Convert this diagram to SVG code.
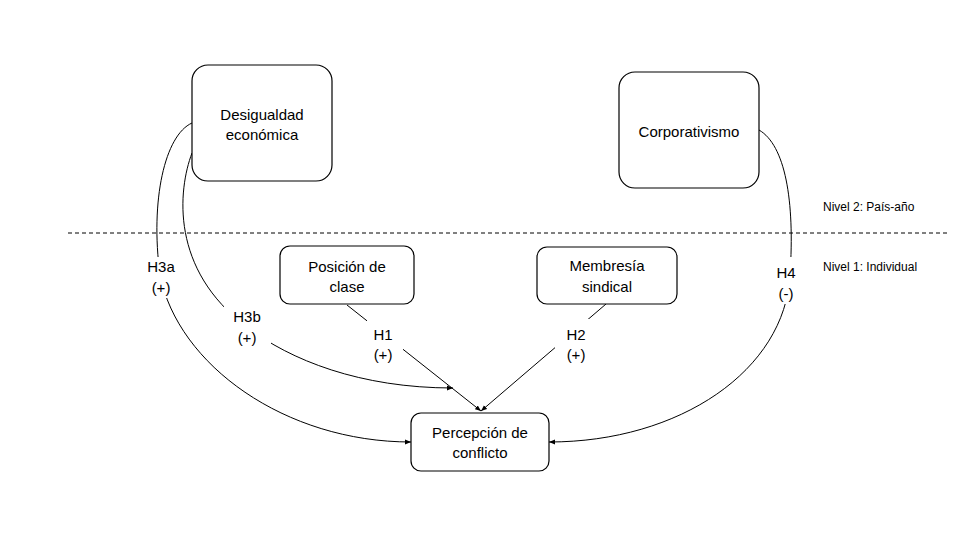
<svg xmlns="http://www.w3.org/2000/svg" width="960" height="540" viewBox="0 0 960 540">
<defs>
<style>
.box{fill:#fff;stroke:#000;stroke-width:1.2}
.t{font-family:"Liberation Sans",Arial,sans-serif;font-size:15px;fill:#000;text-anchor:middle}
.s{font-family:"Liberation Sans",Arial,sans-serif;font-size:12px;fill:#000}
.c{fill:none;stroke:#000;stroke-width:1}
.bg{fill:#fff;stroke:none}
</style>
<marker id="ah" viewBox="0 0 10 10" refX="10" refY="5" markerWidth="6" markerHeight="6" markerUnits="userSpaceOnUse" orient="auto">
<path d="M0,1 L10,5 L0,9 z" fill="#000"/>
</marker>
</defs>
<rect width="960" height="540" fill="#fff"/>
<line x1="68" y1="233" x2="948" y2="233" stroke="#000" stroke-width="1" stroke-dasharray="4,3"/>
<text class="s" x="823" y="211">Nivel 2: País-año</text>
<text class="s" x="823" y="271">Nivel 1: Individual</text>
<g id="connectors">
<path class="c" d="M192,123 C165,135 150,200 160,275 C178,365 285,442 411,442" marker-end="url(#ah)"/>
<path class="c" d="M192,153 C178,190 170,270 247,327 C290,360 360,388 453,388" marker-end="url(#ah)"/>
<path class="c" d="M347,305 L481,411" marker-end="url(#ah)"/>
<path class="c" d="M606,304 L481,411" marker-end="url(#ah)"/>
<path class="c" d="M759,130 C785,145 795,200 790,275 C785,370 680,442 549,442" marker-end="url(#ah)"/>
</g>
<g id="label-h3a"><rect class="bg" x="145" y="257" width="33" height="41"/><text class="t" x="161" y="272">H3a</text><text class="t" x="161" y="293">(+)</text></g>
<g id="label-h3b"><rect class="bg" x="224" y="305" width="47" height="41"/><text class="t" x="247" y="322">H3b</text><text class="t" x="247" y="343">(+)</text></g>
<g id="label-h1"><rect class="bg" x="367" y="320" width="36" height="44"/><text class="t" x="383" y="340">H1</text><text class="t" x="383" y="360">(+)</text></g>
<g id="label-h2"><rect class="bg" x="555" y="319" width="34" height="45"/><text class="t" x="576" y="340">H2</text><text class="t" x="576" y="360">(+)</text></g>
<g id="label-h4"><rect class="bg" x="772" y="257" width="28" height="47"/><text class="t" x="786" y="278">H4</text><text class="t" x="786" y="299">(-)</text></g>
<g id="desigualdad"><rect class="box" x="192" y="65" width="140" height="116" rx="16"/><text class="t" x="262" y="120">Desigualdad</text><text class="t" x="262" y="140">económica</text></g>
<g id="corporativismo"><rect class="box" x="619" y="72" width="140" height="116" rx="16"/><text class="t" x="689" y="137">Corporativismo</text></g>
<g id="posicion"><rect class="box" x="280" y="246" width="134" height="58" rx="10"/><text class="t" x="347" y="272">Posición de</text><text class="t" x="347" y="292">clase</text></g>
<g id="membresia"><rect class="box" x="537" y="247" width="140" height="57" rx="10"/><text class="t" x="607" y="271">Membresía</text><text class="t" x="607" y="292">sindical</text></g>
<g id="percepcion"><rect class="box" x="411" y="413" width="138" height="58" rx="10"/><text class="t" x="480" y="438">Percepción de</text><text class="t" x="480" y="458">conflicto</text></g>
</svg>
